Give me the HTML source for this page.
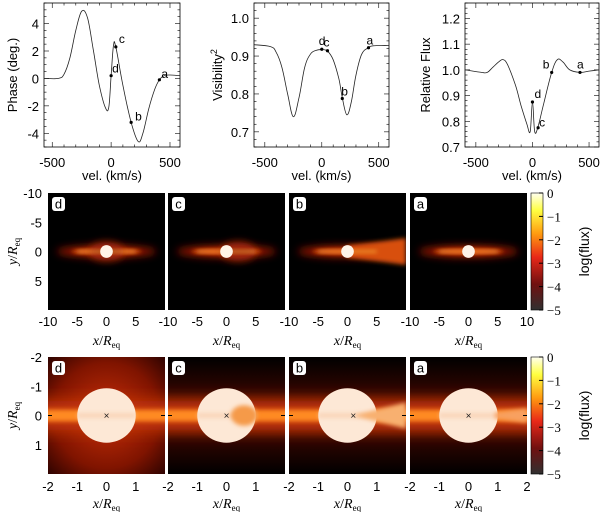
<!DOCTYPE html>
<html><head><meta charset="utf-8"><style>
body{margin:0;background:#fff}
svg{display:block;font-family:"Liberation Sans",sans-serif}
</style></head><body>
<svg id="fig" width="600" height="512" viewBox="0 0 600 512" xmlns="http://www.w3.org/2000/svg">
<defs>
<filter id="bl2" x="-20%" y="-200%" width="140%" height="500%"><feGaussianBlur stdDeviation="2"/></filter>
<filter id="bl4" x="-20%" y="-200%" width="140%" height="500%"><feGaussianBlur stdDeviation="4"/></filter>
<filter id="bl8" x="-20%" y="-200%" width="140%" height="500%"><feGaussianBlur stdDeviation="8"/></filter>
<linearGradient id="cbar" x1="0" y1="0" x2="0" y2="1">
<stop offset="0" stop-color="#fffff0"/><stop offset="0.15" stop-color="#ffff40"/>
<stop offset="0.35" stop-color="#ff9a10"/><stop offset="0.55" stop-color="#e82818"/>
<stop offset="0.78" stop-color="#701010"/><stop offset="1" stop-color="#303030"/>
</linearGradient>
<radialGradient id="bgd" cx="0.5" cy="0.5" r="0.75"><stop offset="0" stop-color="#c83008"/><stop offset="0.6" stop-color="#801400"/><stop offset="1" stop-color="#200000"/></radialGradient>
<linearGradient id="bgc" x1="0" y1="0" x2="0" y2="1"><stop offset="0" stop-color="#000"/><stop offset="0.3" stop-color="#300500"/><stop offset="0.5" stop-color="#a02000"/><stop offset="0.7" stop-color="#300500"/><stop offset="1" stop-color="#000"/></linearGradient>
</defs>
<g id="top"></g>
<g id="mid"></g>
<g id="bot"></g>
</svg>
<script>
const NS="http://www.w3.org/2000/svg";
const svg=document.getElementById('fig');
function mk(tag,attrs,parent,text){const e=document.createElementNS(NS,tag);for(const k in attrs)e.setAttribute(k,attrs[k]);if(text!==undefined)e.textContent=text;(parent||svg).appendChild(e);return e;}

// ---- line chart data ----
const phaseVel=[-570,-450,-400,-350,-300,-250,-200,-150,-100,-50,-20,0,20,40,100,170,230,270,320,370,410,450,500,585];
const phaseVal=[0,0,0.3,1.5,3.5,4.9,4.4,2,-0.5,-2.1,-2.1,0.2,2.4,2.3,-0.5,-3.2,-4.6,-4.0,-2.2,-0.8,-0.1,0.2,0.25,0.2];
const phaseMarkVel=[410,170,40,0];
const phaseMarkVal=[-0.1,-3.2,2.3,0.2];
const visVel=[-595,-450,-400,-350,-300,-250,-200,-150,-100,-50,0,50,100,150,180,220,260,300,350,410,450,590];
const visVal=[0.93,0.925,0.91,0.87,0.8,0.74,0.79,0.87,0.905,0.915,0.917,0.913,0.89,0.84,0.79,0.745,0.78,0.85,0.905,0.922,0.927,0.928];
const visMarkVel=[410,180,50,0];
const visMarkVal=[0.922,0.788,0.914,0.918];
const fluxVel=[-595,-450,-400,-350,-300,-260,-220,-150,-100,-50,-20,0,20,50,100,170,220,270,330,420,500,590];
const fluxVal=[1.0,0.99,0.99,1.01,1.03,1.04,1.02,0.94,0.86,0.79,0.76,0.875,0.76,0.78,0.87,0.99,1.04,1.03,1.0,0.99,0.995,1.0];
const fluxMarkVel=[420,170,50,0];
const fluxMarkVal=[0.99,0.99,0.775,0.875];
const markLabels=['a','b','c','d'];
const velTicks=[-500,0,500];
const phaseTicks=[-4,-2,0,2,4];
const visTicks=[0.7,0.8,0.9,1.0];
const fluxTicks=[0.7,0.8,0.9,1.0,1.1,1.2];

function smoothPath(P){
  let d='M'+P[0][0].toFixed(1)+','+P[0][1].toFixed(1);
  for(let i=0;i<P.length-1;i++){
    const p0=P[Math.max(i-1,0)],p1=P[i],p2=P[i+1],p3=P[Math.min(i+2,P.length-1)];
    const t=0.18;
    const c1=[p1[0]+(p2[0]-p0[0])*t,p1[1]+(p2[1]-p0[1])*t];
    const c2=[p2[0]-(p3[0]-p1[0])*t,p2[1]-(p3[1]-p1[1])*t];
    d+=' C'+c1.map(v=>v.toFixed(1)).join(',')+' '+c2.map(v=>v.toFixed(1)).join(',')+' '+p2[0].toFixed(1)+','+p2[1].toFixed(1);
  }
  return d;
}

function lineChart(o){
  const g=mk('g',{},document.getElementById('top'));
  
  
  const X=v=>o.x0+(v-o.xmin)/(o.xmax-o.xmin)*(o.x1-o.x0);
  const Y=v=>o.y1-(v-o.ymin)/(o.ymax-o.ymin)*(o.y1-o.y0);
  const fr=mk('rect',{x:o.x0,y:o.y0,width:o.x1-o.x0,height:o.y1-o.y0,fill:'none',stroke:'#000','stroke-width':0.8},g);
  
  for(let v=-600;v<=600;v+=100){if(v<o.xmin||v>o.xmax)continue;const x=X(v);const L=(v%500===0)?5:2.5;
    mk('line',{x1:x,y1:o.y1,x2:x,y2:o.y1-L,stroke:'#000','stroke-width':0.6},g);
    mk('line',{x1:x,y1:o.y0,x2:x,y2:o.y0+L,stroke:'#000','stroke-width':0.6},g);}
  velTicks.forEach(v=>{const t=mk('text',{x:X(v),y:167,'text-anchor':'middle','font-size':13},g,String(v));
    });
  const xt=mk('text',{x:(o.x0+o.x1)/2,y:180,'text-anchor':'middle','font-size':13},g,'vel. (km/s)');
  
  for(let v=o.ymin;v<=o.ymax+1e-9;v+=o.minor){const vv=Math.round(v/o.minor)*o.minor;if(vv<o.ymin)continue;const y=Y(vv);
    const major=o.ticks.some(t=>Math.abs(t-vv)<1e-6);const L=major?5:2.5;
    mk('line',{x1:o.x0,y1:y,x2:o.x0+L,y2:y,stroke:'#000','stroke-width':0.6},g);
    mk('line',{x1:o.x1,y1:y,x2:o.x1-L,y2:y,stroke:'#000','stroke-width':0.6},g);}
  o.ticks.forEach(v=>{const t=mk('text',{x:o.x0-5,y:Y(v)+5,'text-anchor':'end','font-size':13},g,o.fmt(v));
    });
  const yt=mk('text',{x:o.ytx,y:(o.y0+o.y1)/2,'text-anchor':'middle','font-size':13,transform:`rotate(-90 ${o.ytx} ${(o.y0+o.y1)/2})`},g);
  yt.innerHTML=o.ytitle;
  
  const P=o.vx.map((v,i)=>[X(v),Y(o.vy[i])]);
  const pl=mk('path',{d:smoothPath(P),fill:'none',stroke:'#222','stroke-width':0.8,'stroke-linejoin':'round'},g);
  
  o.mx.forEach((v,i)=>{const c=mk('circle',{cx:X(v),cy:Y(o.my[i]),r:1.6,fill:'#000'},g);
    
    const off=o.lab[i];
    const t=mk('text',{x:X(v)+off[0],y:Y(o.my[i])+off[1],'font-size':12},g,markLabels[i]);
    });
}
lineChart({name:'phase-chart',x0:44,x1:180,y0:3,y1:147,xmin:-570,xmax:585,ymin:-5,ymax:5.5,ticks:phaseTicks,minor:0.5,fmt:v=>String(v),
  vx:phaseVel,vy:phaseVal,mx:phaseMarkVel,my:phaseMarkVal,ytitle:'Phase (deg.)',ytx:17,
  lab:[[2,-2],[4,-2],[3,-4],[1,-3]]});
lineChart({name:'visibility-chart',x0:254,x1:389,y0:3,y1:147,xmin:-595,xmax:590,ymin:0.66,ymax:1.04,ticks:visTicks,minor:0.02,fmt:v=>v.toFixed(1),
  vx:visVel,vy:visVal,mx:visMarkVel,my:visMarkVal,ytitle:'Visibility<tspan font-size="9" dy="-5">2</tspan>',ytx:222,
  lab:[[-2,-3],[-1,-3],[-4,-4],[-3,-4]]});
lineChart({name:'flux-chart',x0:465,x1:599,y0:3,y1:147,xmin:-596,xmax:588,ymin:0.7,ymax:1.26,ticks:fluxTicks,minor:0.02,fmt:v=>v.toFixed(1),
  vx:fluxVel,vy:fluxVal,mx:fluxMarkVel,my:fluxMarkVal,ytitle:'Relative Flux',ytx:430,
  lab:[[-3,-4],[-9,-4],[1,-1],[2,-4]]});

// ---- image panels ----
const panelLetters=['d','c','b','a'];
const panelX=[48,168,289,410];
const PW=117;
function label(g,x,y,l){mk('rect',{x:x+4,y:y+4,width:13,height:14,rx:3,fill:'#fff'},g);
  const t=mk('text',{x:x+10.5,y:y+15.5,'text-anchor':'middle','font-size':13},g,l);
  }
function row(y0,kind){
  const G=document.getElementById(kind);
  panelX.forEach((x0,i)=>{
    const g=mk('g',{},G);
    
    
    const cid='clip'+kind+i;
    const cp=mk('clipPath',{id:cid},g);mk('rect',{x:x0,y:y0,width:PW,height:PW},cp);
    const c=mk('g',{'clip-path':`url(#${cid})`},g);
    const cx=x0+PW/2,cy=y0+PW/2,L=panelLetters[i];
    if(kind==='mid'){
      const s=PW/20;
      mk('rect',{x:x0,y:y0,width:PW,height:PW,fill:'#000'},c);
      mk('ellipse',{cx:cx,cy:cy,rx:8.5*s,ry:1.1*s,fill:'#8a1800',filter:'url(#bl4)'},c);
      mk('ellipse',{cx:cx,cy:cy,rx:6*s,ry:0.55*s,fill:'#e04a10',filter:'url(#bl2)'},c);
      if(L==='c'||L==='d')mk('ellipse',{cx:cx+(L==='c'?2*s:0),cy:cy,rx:3*s,ry:1.6*s,fill:'#a02808',filter:'url(#bl4)'},c);
      if(L==='b'){mk('path',{d:`M${cx} ${cy-1*s} L${x0+PW} ${cy-2.3*s} L${x0+PW} ${cy+2.3*s} L${cx} ${cy+1*s}Z`,fill:'#d85010',filter:'url(#bl2)'},c);}
      mk('rect',{x:cx-5*s,y:cy-0.8,width:10*s,height:1.6,fill:'#ffc040',filter:'url(#bl2)'},c);
      mk('circle',{cx:cx,cy:cy,r:1*s+0.5,fill:'#fff4e8'},c);
    } else {
      const s=PW/4;
      mk('rect',{x:x0,y:y0,width:PW,height:PW,fill:(L==='d'?'url(#bgd)':'url(#bgc)')},c);
      mk('rect',{x:x0-20,y:cy-0.5*s,width:PW+40,height:1.0*s,fill:'#c83808',filter:'url(#bl8)'},c);
      mk('rect',{x:x0-10,y:cy-0.2*s,width:PW+20,height:0.4*s,fill:'#ff8a20',filter:'url(#bl2)'},c);
      mk('ellipse',{cx:cx,cy:cy,rx:s,ry:0.93*s,fill:'#fde8d6'},c);
      mk('rect',{x:cx-s,y:cy-2.5,width:2*s,height:5,fill:'#f6c8a4',opacity:0.6,filter:'url(#bl2)'},c);
      if(L==='c')mk('ellipse',{cx:cx+0.6*s,cy:cy,rx:0.45*s,ry:0.35*s,fill:'#f59a48',filter:'url(#bl2)'},c);
      if(L==='b')mk('path',{d:`M${cx+0.2*s} ${cy} L${x0+PW} ${cy-0.45*s} L${x0+PW} ${cy+0.45*s}Z`,fill:'#f8b070',filter:'url(#bl2)'},c);
      if(L==='a')mk('path',{d:`M${cx+0.9*s} ${cy-0.1*s} L${x0+PW} ${cy-0.25*s} L${x0+PW} ${cy+0.25*s} L${cx+0.9*s} ${cy+0.1*s}Z`,fill:'#f8a060',filter:'url(#bl2)'},c);
      const xo=cx+(L==='b'?0.2*s:0);
      mk('text',{x:xo,y:cy+3.5,'text-anchor':'middle','font-size':10,fill:'#222'},c,'×');
      mk('line',{x1:x0,y1:cy,x2:x0+4,y2:cy,stroke:'#000'},c);mk('line',{x1:x0+PW-4,y1:cy,x2:x0+PW,y2:cy,stroke:'#000'},c);
    }
    label(g,x0,y0,L);
    const ticks=kind==='mid'?[-10,-5,0,5]:[-2,-1,0,1];
    if(i===3)ticks.push(kind==='mid'?10:2);
    const rng=kind==='mid'?10:2;
    ticks.forEach(v=>{const t=mk('text',{x:x0+(v+rng)/(2*rng)*PW,y:kind==='mid'?326:491,'text-anchor':'middle','font-size':13},g,String(v));
      });
    const xt=mk('text',{x:x0+PW/2,y:kind==='mid'?345:508,'text-anchor':'middle','font-size':14,'font-family':'Liberation Serif,serif'},g);
    xt.innerHTML='<tspan font-style="italic">x</tspan>/<tspan font-style="italic">R</tspan><tspan font-size="9" dy="3">eq</tspan>';
    
  });
  const yt=kind==='mid'?[-10,-5,0,5]:[-2,-1,0,1];const rng=kind==='mid'?10:2;
  yt.forEach(v=>{const t=mk('text',{x:42,y:y0+(v+rng)/(2*rng)*PW+5,'text-anchor':'end','font-size':13},G,String(v));
    });
  const cyy=y0+PW/2;
  const ytt=mk('text',{x:17,y:cyy,'text-anchor':'middle','font-size':14,'font-family':'Liberation Serif,serif',transform:`rotate(-90 17 ${cyy})`},G);
  ytt.innerHTML='<tspan font-style="italic">y</tspan>/<tspan font-style="italic">R</tspan><tspan font-size="9" dy="3">eq</tspan>';
  
  const cb=mk('rect',{x:531,y:y0,width:12,height:PW,fill:'url(#cbar)',stroke:'#000','stroke-width':0.6},G);
  
  [0,-1,-2,-3,-4,-5].forEach((v,k)=>{const y=y0+k*PW/5;
    mk('line',{x1:539,y1:y,x2:543,y2:y,stroke:'#000'},G);
    const t=mk('text',{x:547,y:y+5,'font-size':13,'font-family':'Liberation Serif,serif'},G,v===0?'0':'\u2212'+(-v));
    });
  const lt=mk('text',{x:589,y:cyy,'text-anchor':'middle','font-size':14,transform:`rotate(-90 589 ${cyy})`},G,'log(flux)');
  
}
row(193,'mid');
row(357,'bot');
</script>
</body></html>
